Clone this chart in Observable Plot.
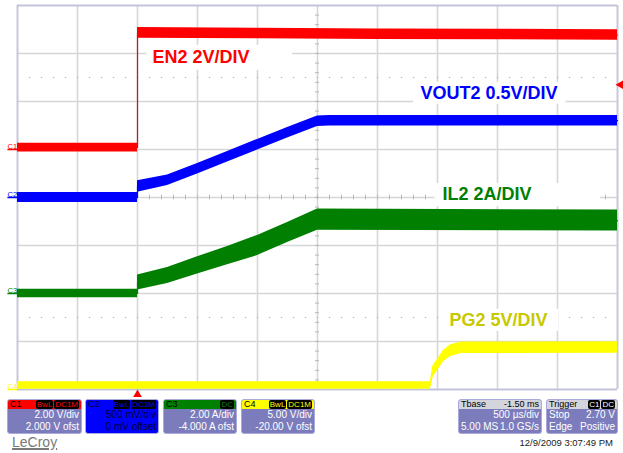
<!DOCTYPE html>
<html><head><meta charset="utf-8">
<script src="https://cdn.jsdelivr.net/npm/d3@7"></script>
<script src="https://cdn.jsdelivr.net/npm/@observablehq/plot@0.6"></script>
<style>
body{margin:0;background:#fff;font-family:"Liberation Sans",Arial,sans-serif;}
#wrap{position:relative;width:623px;height:453px;overflow:hidden;background:#fff;}
#chart{position:absolute;left:0;top:0;}
.box{position:absolute;top:399px;height:35px;border-radius:3px;background:#7c7cbc;color:#fff;font-size:10px;overflow:hidden;box-sizing:border-box;border:1px solid #aaaadc;}
.hd{height:9px;line-height:9px;display:flex;justify-content:space-between;align-items:center;padding:0 2px;color:#000;font-size:9px;}
.row{height:12px;line-height:12px;display:flex;justify-content:space-between;padding:0 2px;}
.tag{background:#000;border-radius:2px;padding:0 1px;margin-left:1px;font-size:8px;line-height:8px;}
#lecroy{position:absolute;left:12px;top:434px;font-size:14px;color:#7a7a7a;text-decoration:underline;text-decoration-thickness:2px;}
#date{position:absolute;right:10px;top:437px;font-size:9.5px;color:#222;}
</style></head><body>
<div id="wrap"><div id="chart"></div>
<div class="box" style="left:7px;width:75px;"><div class="hd" style="background:#ff0000;"><span>C1</span><span><span class="tag" style="color:#ff0000">BwL</span><span class="tag" style="color:#ff0000">DC1M</span></span></div><div class="row"><span></span><span>2.00 V/div</span></div><div class="row"><span></span><span>2.000 V ofst</span></div></div>
<div class="box" style="left:85px;width:74px;background:#0000ff;color:#000030;"><div class="hd" style="background:#0000ff;color:#000030;"><span>C2</span><span><span class="tag" style="color:#0000ff">BwL</span><span class="tag" style="color:#0000ff">DC1M</span></span></div><div class="row"><span></span><span>500 mV/div</span></div><div class="row"><span></span><span>0 mV offset</span></div></div>
<div class="box" style="left:163px;width:74px;"><div class="hd" style="background:#008000;"><span>C3</span><span><span class="tag" style="color:#008000">DC</span></span></div><div class="row"><span></span><span>2.00 A/div</span></div><div class="row"><span></span><span>-4.000 A ofst</span></div></div>
<div class="box" style="left:241px;width:74px;"><div class="hd" style="background:#ffff00;"><span>C4</span><span><span class="tag" style="color:#ffff00">BwL</span><span class="tag" style="color:#ffff00">DC1M</span></span></div><div class="row"><span></span><span>5.00 V/div</span></div><div class="row"><span></span><span>-20.00 V ofst</span></div></div>
<div class="box" style="left:458px;width:84px;"><div class="hd" style="background:#d4d4dc;"><span>Tbase</span><span>-1.50 ms</span></div><div class="row"><span></span><span>500 µs/div</span></div><div class="row"><span>5.00 MS</span><span>1.0 GS/s</span></div></div>
<div class="box" style="left:546px;width:72px;"><div class="hd" style="background:#d4d4dc;"><span>Trigger</span><span><span class="tag" style="color:#fff">C1</span><span class="tag" style="color:#fff">DC</span></span></div><div class="row"><span>Stop</span><span>2.70 V</span></div><div class="row"><span>Edge</span><span>Positive</span></div></div>
<div id="lecroy">LeCroy</div>
<div id="date">12/9/2009 3:07:49 PM</div>
</div>
<script>
// Channel settings
const channels = ["C1", "C2", "C3", "C4"];
const unitsPerDiv = [2.0, 0.5, 2.0, 5.0];
const offsets = [2.0, 0.0, -4.0, -20.0];
const traceColors = ["#ff0000", "#0000ff", "#007f00", "#ffff00"];
const triggerLevel = 2.70; // V on C1
const triggerTime = 0;     // ms

// C1 EN2 (V)
const time_EN2 = [-1.0, 0.0, 0.0, 1.0, 2.0, 3.0, 4.0];
const EN2 = [0.08, 0.08, 4.86, 4.83, 4.80, 4.79, 4.77];
const spread_EN2 = [0.18, 0.18, 0.22, 0.22, 0.22, 0.22, 0.22];
// C2 VOUT2 (V)
const time_VOUT2 = [-1.0, 0.0, 0.0, 0.25, 0.5, 0.75, 1.0, 1.25, 1.5, 1.6, 2.5, 4.0];
const VOUT2 = [0.0, 0.0, 0.115, 0.18, 0.30, 0.425, 0.55, 0.675, 0.795, 0.80, 0.80, 0.80];
const spread_VOUT2 = [0.052, 0.052, 0.06, 0.055, 0.055, 0.055, 0.055, 0.055, 0.055, 0.055, 0.055, 0.055];
// C3 IL2 (A)
const time_IL2 = [-1.0, 0.0, 0.0, 0.25, 0.5, 0.75, 1.0, 1.25, 1.5, 4.0];
const IL2 = [0.0, 0.0, 0.46, 0.75, 1.17, 1.58, 2.0, 2.54, 3.08, 3.04];
const spread_IL2 = [0.18, 0.18, 0.31, 0.33, 0.36, 0.38, 0.42, 0.42, 0.44, 0.44];
// C4 PG2 (V)
const time_PG2 = [-1.0, 2.44, 2.46, 2.55, 2.61, 2.70, 4.0];
const PG2 = [0.42, 0.42, 1.8, 3.5, 4.05, 4.35, 4.38];
const spread_PG2 = [0.4, 0.4, 0.6, 0.6, 0.6, 0.6, 0.6];

// Annotations
const labelText = ["EN2 2V/DIV", "VOUT2 0.5V/DIV", "IL2 2A/DIV", "PG2 5V/DIV"];
const labelColors = ["#ff0000", "#0000ff", "#007f00", "#c8c800"];
const labelT = [0.125, 2.358, 2.542, 2.6];
const labelDiv = [2.92, 2.18, 0.073, -2.56];
const boxT1 = [0.08, 2.30, 2.48, 2.55], boxT2 = [1.29, 3.57, 3.86, 3.51];
const boxD1 = [2.65, 1.94, -0.19, -2.79], boxD2 = [3.17, 2.40, 0.29, -2.33];

const series = [
  [time_EN2, EN2, spread_EN2],
  [time_VOUT2, VOUT2, spread_VOUT2],
  [time_IL2, IL2, spread_IL2],
  [time_PG2, PG2, spread_PG2]
];
const toDiv = (v, i) => (v + offsets[i]) / unitsPerDiv[i];
const traces = series.map(([t, v, s], i) => t.map((tt, k) => ({
  t: tt, d: toDiv(v[k], i), lo: toDiv(v[k] - s[k], i), hi: toDiv(v[k] + s[k], i)
})));
const labels = labelText.map((text, i) => ({text, color: labelColors[i], t: labelT[i], d: labelDiv[i],
  t1: boxT1[i], t2: boxT2[i], d1: boxD1[i], d2: boxD2[i]}));
const markers = channels.map((c, i) => ({c, d: toDiv(0, i), color: traceColors[i]}));

const vLines = d3.range(-1, 4.001, 0.5);
const hLines = d3.range(-4, 4.001, 1);
const minorX = d3.range(-0.9, 3.95, 0.1);
const minorY = d3.range(-3.8, 3.85, 0.2);
const dotted = minorX.flatMap(t => [{t, d: 2.5}, {t, d: -2.5}]);

const gridColor = "#d6d6d6";
const marks = [
  Plot.ruleX(vLines.slice(1, -1), {stroke: gridColor, strokeWidth: 1.6}),
  Plot.ruleY(hLines.slice(1, -1), {stroke: gridColor, strokeWidth: 1.6}),
  Plot.ruleX(minorX, {y1: -0.05, y2: 0.05, stroke: "#b8b8b8", strokeWidth: 1}),
  Plot.ruleY(minorY, {x1: 1.5 - 0.017, x2: 1.5 + 0.017, stroke: "#b8b8b8", strokeWidth: 1}),
  Plot.dot(dotted, {x: "t", y: "d", r: 0.8, fill: "#bcbcbc", stroke: null}),
  Plot.ruleX([-1, 4], {stroke: "#c8c8d8", strokeWidth: 2}),
  Plot.ruleY([-4, 4], {stroke: "#c4c4d8", strokeWidth: 2}),
  Plot.rect(labels, {x1: "t1", x2: "t2", y1: "d1", y2: "d2", fill: "#fff"}),
  ...traces.map((tr, i) => Plot.areaY(tr, {x: "t", y1: "lo", y2: "hi", fill: traceColors[i], fillOpacity: 1})),
  ...traces.map((tr, i) => Plot.line(tr, {x: "t", y: "d", stroke: traceColors[i], strokeWidth: 1.2})),
  Plot.text(labels, {x: "t", y: "d", text: "text", fill: "color", fontSize: 18, fontWeight: "bold",
    textAnchor: "start", lineAnchor: "middle", fontFamily: "Liberation Sans, Arial, sans-serif"}),
  Plot.text(markers, {x: -1, y: "d", text: "c", fill: "color", fontSize: 7.5, dx: -10, dy: -1, textAnchor: "start", lineAnchor: "bottom"}),
  Plot.ruleY(markers, {y: "d", x1: -1 - 0.08, x2: -1, stroke: "color", strokeWidth: 1.5}),
  Plot.dot([{t: triggerTime}], {x: "t", y: -4, dy: 5, symbol: "triangle", r: 3.2, fill: "#ff0000", stroke: null}),
  Plot.dot([{v: triggerLevel}], {x: 4, y: d => toDiv(d.v, 0), dx: 3, symbol: "triangle", rotate: -90, r: 3.2, fill: "#ff0000", stroke: null})
];

const chart = Plot.plot({
  width: 623, height: 397,
  marginLeft: 17, marginRight: 6, marginTop: 5, marginBottom: 8,
  x: {domain: [-1, 4], axis: null},
  y: {domain: [-4, 4], axis: null},
  style: {background: "transparent", overflow: "visible", fontFamily: "Liberation Sans, Arial, sans-serif"},
  marks
});
document.getElementById("chart").appendChild(chart);
</script>
</body></html>
